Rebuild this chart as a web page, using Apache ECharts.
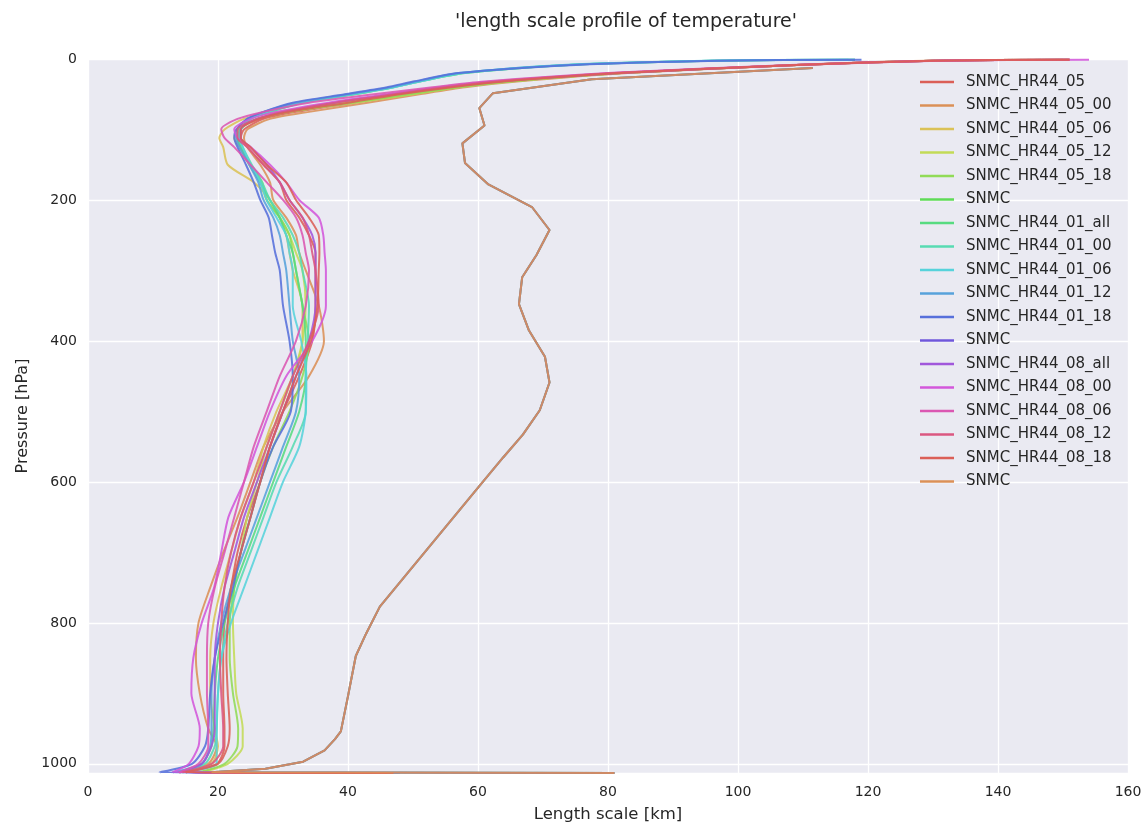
<!DOCTYPE html>
<html><head><meta charset="utf-8">
<script src="https://cdn.jsdelivr.net/npm/echarts@6/dist/echarts.min.js"></script>
<style>html,body{margin:0;padding:0;background:#fff}#c{width:1145px;height:828px}</style>
</head><body><div id="c"></div>
<script>
// Pressure levels (hPa) for the cluster of experiment profiles
const levels = [1, 2.5, 8.5, 20, 32, 40, 50, 62, 75, 85, 100, 112, 125, 150, 175, 200, 225, 250, 275, 300, 350, 400, 450, 500, 550, 600, 650, 700, 750, 800, 850, 900, 950, 975, 1000, 1012, 1013];

const hr05    = [151,130,109,82,64,56,49,41,32,27,24,23.5, 24.5,27,29.5,30.5,32.5,34,35,35,35,34.5,32.5,30,28,26.5,24.5,23,22,21,20.8,20.8,21,21,19.8,14,45];
const hr05_00 = [150,129,109,83,66,58,51,43,34,28,24.5,24, 24.5,26.5,28,28.5,30.5,32,32.5,33.5,35.5,36.3,34,30,27,25,23,20.8,18.8,17,16.6,17.2,18.5,19.8,18.5,14,48];
const hr05_06 = [151,130,109,82,64,55,48,39,29,24,21,20.2, 20.8,21.5,25.5,28,29.5,30.5,31,31.5,33,33,31.5,29,27,25.5,23.5,22,20.5,19.3,18.8,18.8,19.5,20,19,15,44];
const hr05_12 = [151,130,109,82,65,57,50,41,31,26,23,22.5, 23.3,24.8,26.5,27.5,29.5,31,32,33,33.5,33,31.5,29.5,27.5,26,24.5,23.5,22.5,22.3,22.5,22.8,23.8,23.8,21.5,17.5,46];
const hr05_18 = [151,130,109,82,65,57,49.5,40.5,31,26,23.3,23, 23.5,25,26.8,27.5,29.5,31,31.5,32,33,34,33,31,28.5,26.5,25,23.5,22.5,21.8,21.8,22.3,23.1,23,21,17,45];
const hr01_all = [118,96,74,58,51,47,41,33,28,25,23.5,23, 23.5,25,26.5,28,29.5,30.5,31.5,32,33,33.5,33.5,32.5,30.5,28.5,26.5,24.5,22.5,21,20,19.5,19.3,19,17.5,14.5,42];
const hr01_00 = [118,96,74,58,51,47,41,33,28,25,23.5,23.2, 23.8,25.2,26.8,28,30,31.5,32.5,33,34,33.8,33.5,33.5,31.5,29,27,25,23,21.5,20.5,20,19.8,19.5,18,14.5,47];
const hr01_06 = [117,95,73,57.5,51,47,40.5,32.5,27.5,25,23.5,23.3, 23.8,25,26.5,27.5,29,30.5,31,31.5,31.5,32.8,33.6,33.5,32.5,30,28,26,24,22,20.5,20,19.8,19.8,19.8,15,48];
const hr01_12 = [118,96,74,57,50.5,46.5,40,32,27,24.5,23,22.8, 23.3,24.8,26.2,27,28.5,29.5,30,30.5,31,31.5,32.5,32,30,28,26,24,22,20.5,19.5,19,19,18.8,17.5,13,44];
const hr01_18 = [119,97,75,57,50,46,39.5,31.5,27,24.5,22.8,22.5, 23,24.3,25.5,26.5,27.8,28.3,28.8,29.5,30,31,31.5,31.2,28.5,26.5,25,23.5,22.3,20.8,19.5,18.8,18.5,18,16,11,40];
const hr08_all = [151,130,109,82,63,55,47,38,30,26,23.5,23.5, 25,27.5,29.5,31,33,34.5,35,35,35,34,32,30,28,26,24,22.5,21,20,19.5,19.5,19.5,19,17.5,14,46];
const hr08_00 = [154,131,109,81,62,54,46,37,29,25,22.5,23, 25,28,30.5,32.5,35.5,36.2,36.4,36.6,36.6,34.5,30.5,28,26,24,21.6,20.5,19.4,17.5,16.2,15.9,17.2,17,15.5,13,45];
const hr08_06 = [151,130,108,80,61,53,44,34,27,23,20.5,21, 22.5,25,27.5,30,32,33,33.5,34,33.5,32,29.5,27.5,25.5,24,22.5,21,19.5,18.5,18.3,18.3,18.5,18.5,17,14,44];
const hr08_12 = [151,130,109,81,63,55,47,38,30,26,23,23, 24.5,27,29.5,31,33,34,34.5,35,35.5,34,31.5,29.5,27.5,25.5,23.5,22,21,20.5,20.3,20.5,20.8,20.8,19,14.5,46];
const hr08_18 = [151,130,109,82,64,56,48,40,31,26.5,23.5,23.5, 25,27.5,30.5,32,34,35.5,35.6,35.5,35.3,34.3,32,30,28,26.5,25,23.5,22,21.5,21.3,21.5,21.8,21.5,20,15,47];

// SNMC reference profile (own levels)
const snmcLevels = [12.7,28.7,48.5,69.6,94.3,119.7,147.5,178,210,242.6,278,309.6,347.7,384.4,422.5,459,498.4,533,565,606,777,815,847,904,954,965,981,997,1007,1012,1013];
const snmcValues = [111.5,77.5,62.3,60.2,61.0,57.6,58.0,61.6,68.3,71.0,69.0,66.8,66.3,67.8,70.3,71.0,69.5,66.9,63.9,60.2,44.9,42.8,41.2,40.0,38.9,38.0,36.4,33.1,27.3,19,81];

const names = ['SNMC_HR44_05','SNMC_HR44_05_00','SNMC_HR44_05_06','SNMC_HR44_05_12','SNMC_HR44_05_18','SNMC#1',
  'SNMC_HR44_01_all','SNMC_HR44_01_00','SNMC_HR44_01_06','SNMC_HR44_01_12','SNMC_HR44_01_18','SNMC#2',
  'SNMC_HR44_08_all','SNMC_HR44_08_00','SNMC_HR44_08_06','SNMC_HR44_08_12','SNMC_HR44_08_18','SNMC#3'];
const colors = ['#db5f57','#db9057','#dbc257','#c3db57','#91db57','#5fdb57','#57db80','#57dbb2','#57d3db','#57a2db','#5770db','#6f57db','#a157db','#d357db','#db57b2','#db5781','#db5f57','#db9057'];
const profiles = [hr05,hr05_00,hr05_06,hr05_12,hr05_18,null,hr01_all,hr01_00,hr01_06,hr01_12,hr01_18,null,hr08_all,hr08_00,hr08_06,hr08_12,hr08_18,null];
const yTicks = [0,200,400,600,800,1000];

const FONT = 'DejaVu Sans';
const series = names.map((n,i) => {
  const vals = profiles[i];
  const data = vals ? levels.map((p,k)=>[vals[k],p]) : snmcLevels.map((p,k)=>[snmcValues[k],p]);
  return {
    name: n, type: 'line', data: data, showSymbol: false, symbol: 'none',
    smooth: vals ? 0.25 : false,
    color: colors[i],
    lineStyle: {color: colors[i], width: 2, opacity: 0.88},
    itemStyle: {color: colors[i]},
    emphasis: {disabled: true}, animation: false, clip: true
  };
});

const chart = echarts.init(document.getElementById('c'), null, {renderer: 'canvas'});
chart.setOption({
  animation: false,
  backgroundColor: '#ffffff',
  title: {text: "'length scale profile of temperature'", left: 621, top: 8, textAlign: 'center',
    textStyle: {fontFamily: FONT, fontSize: 19, fontWeight: 'normal', color: '#262626'}},
  grid: {left: 88, right: 17, top: 59, bottom: 53, show: true, backgroundColor: '#EAEAF2', borderWidth: 0},
  legend: {
    orient: 'vertical', left: 915, top: 68, itemWidth: 34, itemHeight: 2.5, itemGap: 5.5,
    icon: 'rect', selectedMode: false,
    formatter: n => n.replace(/#\d+$/, ''),
    textStyle: {fontFamily: FONT, fontSize: 15, color: '#262626', lineHeight: 18, padding: [0,0,0,7]}
  },
  xAxis: {
    type: 'value', min: 0, max: 160, interval: 20,
    name: 'Length scale [km]', nameLocation: 'middle', nameGap: 33,
    nameTextStyle: {fontFamily: FONT, fontSize: 16.5, color: '#262626'},
    axisLine: {show: false}, axisTick: {show: false},
    axisLabel: {fontFamily: FONT, fontSize: 14, color: '#262626', margin: 12},
    splitLine: {show: true, lineStyle: {color: '#ffffff', width: 1.3}}
  },
  yAxis: {
    type: 'value', inverse: true, min: 0, max: 1013, interval: 200,
    name: 'Pressure [hPa]', nameLocation: 'middle', nameGap: 57,
    nameTextStyle: {fontFamily: FONT, fontSize: 16, color: '#262626'},
    axisLine: {show: false}, axisTick: {show: false},
    axisLabel: {fontFamily: FONT, fontSize: 14, color: '#262626', margin: 11,
      showMaxLabel: false, formatter: v => yTicks.includes(v) ? String(v) : ''},
    splitLine: {show: true, lineStyle: {color: '#ffffff', width: 1.3}}
  },
  series: series
});
</script></body></html>
